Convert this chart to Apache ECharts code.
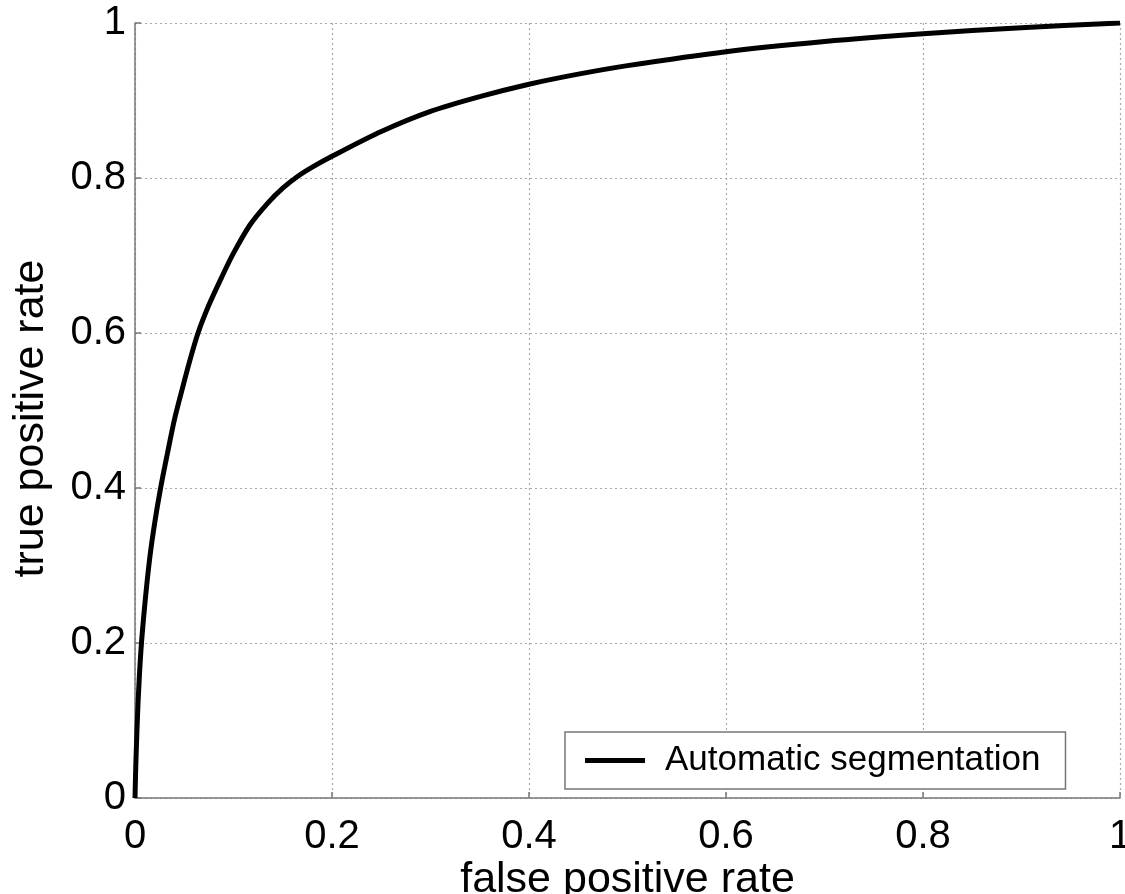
<!DOCTYPE html>
<html>
<head>
<meta charset="utf-8">
<script src="https://cdn.jsdelivr.net/npm/echarts@6/dist/echarts.min.js"></script>
<style>
html,body{margin:0;padding:0;background:#fff;}
#chart{width:1125px;height:894px;}
</style>
</head>
<body>
<div id="chart"></div>
<script>
const fpr = [0, 0.001, 0.003, 0.006, 0.010, 0.015, 0.020, 0.026, 0.033, 0.040, 0.048, 0.056, 0.064, 0.075, 0.088, 0.100, 0.117, 0.135, 0.150, 0.165, 0.180, 0.200, 0.250, 0.300, 0.350, 0.400, 0.450, 0.500, 0.600, 0.700, 0.800, 0.900, 1.000];
const tpr = [0, 0.05, 0.12, 0.19, 0.25, 0.31, 0.355, 0.40, 0.445, 0.488, 0.528, 0.566, 0.60, 0.636, 0.672, 0.703, 0.74, 0.768, 0.787, 0.802, 0.814, 0.828, 0.860, 0.886, 0.905, 0.921, 0.934, 0.945, 0.963, 0.976, 0.986, 0.994, 1.000];
const seriesName = 'Automatic segmentation';
const xAxisTitle = 'false positive rate';
const yAxisTitle = 'true positive rate';

const FONT = 'Liberation Sans, Arial, Helvetica, sans-serif';
const chart = echarts.init(document.getElementById('chart'));
const axisCommon = {
  type: 'value', min: 0, max: 1, interval: 0.2,
  axisLine: {show: true, lineStyle: {color: '#777', width: 1.5}},
  axisTick: {show: true, inside: true, length: 6, lineStyle: {color: '#777', width: 1.5}},
  splitLine: {show: true, lineStyle: {color: '#aaa', type: [2, 3], width: 1.2}},
  axisLabel: {color: '#000', fontFamily: FONT, fontSize: 40, showMinLabel: true, showMaxLabel: true},
  nameTextStyle: {color: '#000', fontFamily: FONT, fontSize: 43},
  nameMoveOverlap: false
};
chart.setOption({
  animation: false,
  backgroundColor: '#fff',
  grid: {left: 135, right: 5, top: 23, bottom: 96, containLabel: false, outerBoundsMode: 'none'},
  xAxis: Object.assign({}, axisCommon, {
    name: xAxisTitle, nameLocation: 'middle', nameGap: 61,
    axisLabel: Object.assign({}, axisCommon.axisLabel, {margin: 19})
  }),
  yAxis: Object.assign({}, axisCommon, {
    name: yAxisTitle, nameLocation: 'middle', nameGap: 82,
    nameTextStyle: Object.assign({}, axisCommon.nameTextStyle, {padding: [0, 16, 0, 0]}),
    axisLabel: Object.assign({}, axisCommon.axisLabel, {margin: 9})
  }),
  legend: {
    data: [seriesName],
    left: 565, top: 732,
    orient: 'vertical',
    backgroundColor: '#fff',
    borderColor: '#777', borderWidth: 1.5, borderRadius: 0,
    padding: [11, 25, 11, 20],
    icon: 'rect', itemWidth: 60, itemHeight: 5,
    textStyle: {color: '#000', fontFamily: FONT, fontSize: 35, padding: [0, 0, 0, 15]}
  },
  series: [{
    name: seriesName,
    type: 'line',
    data: fpr.map((x, i) => [x, tpr[i]]),
    smooth: 0.3,
    showSymbol: false,
    symbol: 'none',
    lineStyle: {color: '#000', width: 5},
    itemStyle: {color: '#000'}
  }]
});
</script>
</body>
</html>
